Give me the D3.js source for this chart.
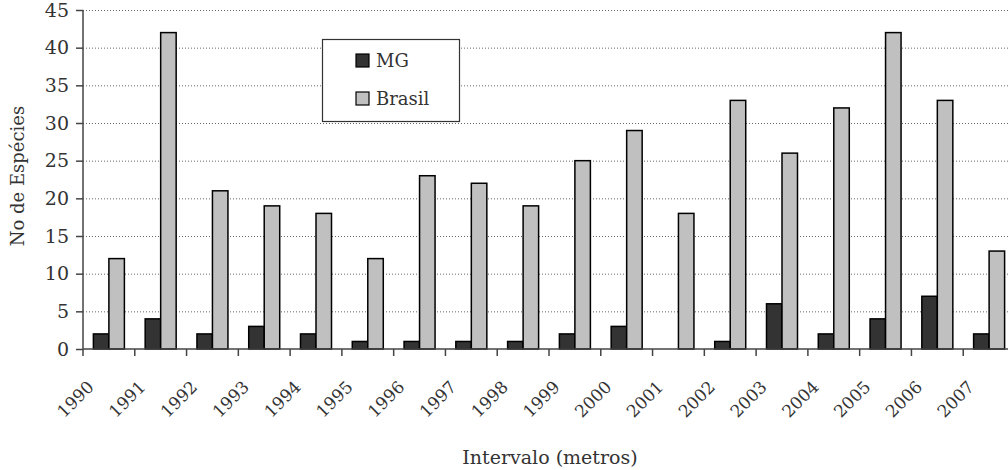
<!DOCTYPE html>
<html><head><meta charset="utf-8">
<script src="https://cdn.jsdelivr.net/npm/d3@7/dist/d3.min.js"></script>
<style>body{margin:0;background:#fff;overflow:hidden}svg{display:block}</style>
</head><body>
<svg id="c" width="1008" height="470"></svg>
<script>
const categories = ["1990","1991","1992","1993","1994","1995","1996","1997","1998","1999","2000","2001","2002","2003","2004","2005","2006","2007"];
const seriesNames = ["MG","Brasil"];
const mgValues = [2,4,2,3,2,1,1,1,1,2,3,0,1,6,2,4,7,2];
const brasilValues = [12,42,21,19,18,12,23,22,19,25,29,18,33,26,32,42,33,13];
const yTicks = [0,5,10,15,20,25,30,35,40,45];
const colors = {MG:"#333333", Brasil:"#c0c0c0"};
const FONT = "'DejaVu Serif', serif";

const svg = d3.select("#c");
const m = {left:83, top:10, right:1015, bottom:349};
const x = d3.scaleBand().domain(categories).range([m.left, m.right]);
const y = d3.scaleLinear().domain([0,45]).range([m.bottom, m.top]);
const bw = 15.5;
const x1 = d3.scaleBand().domain(seriesNames).range([0, bw*2]);

// gridlines
svg.append("g").selectAll("line").data(yTicks.filter(d=>d>0)).join("line")
  .attr("x1", m.left).attr("x2", 1008)
  .attr("y1", d=>y(d)+0.5).attr("y2", d=>y(d)+0.5)
  .attr("stroke","#666").attr("stroke-width",1).attr("stroke-dasharray","1,2");

// bars
const data = categories.map((c,i)=>({c, vals:[{k:"MG",v:mgValues[i]},{k:"Brasil",v:brasilValues[i]}]}));
const g = svg.append("g").selectAll("g").data(data).join("g")
  .attr("transform", d=>`translate(${x(d.c)+x.bandwidth()/2 - bw},0)`);
g.selectAll("rect").data(d=>d.vals.filter(e=>e.v>0)).join("rect")
  .attr("x", d=>x1(d.k)).attr("width", bw)
  .attr("y", d=>y(d.v)).attr("height", d=>y(0)-y(d.v))
  .attr("fill", d=>colors[d.k]).attr("stroke","#000").attr("stroke-width",1.5);

// y axis
const ya = svg.append("g").attr("transform",`translate(${m.left},0)`)
  .call(d3.axisLeft(y).tickValues(yTicks).tickSize(7).tickPadding(7));
ya.select(".domain").attr("stroke","#444").attr("stroke-width",1.5).attr("d",`M0,${m.top}V${m.bottom}`);
ya.selectAll(".tick line").attr("stroke","#444").attr("stroke-width",1.5);
ya.selectAll("text").attr("font-family",FONT).attr("font-size",19).attr("fill","#333");

// x axis
const xa = svg.append("g").attr("transform",`translate(0,${m.bottom})`);
xa.append("line").attr("x1",m.left).attr("x2",1008).attr("stroke","#444").attr("stroke-width",1.5);
const xtickPos = categories.map(c=>x(c)).concat([m.right]);
xa.selectAll("line.t").data(xtickPos).join("line").attr("class","t")
  .attr("x1",d=>d).attr("x2",d=>d).attr("y1",0).attr("y2",7).attr("stroke","#444").attr("stroke-width",1.5);
xa.selectAll("text").data(categories).join("text")
  .attr("transform", d=>`translate(${x(d)+x.bandwidth()/2-14},${39}) rotate(-45)`)
  .attr("text-anchor","end").attr("font-family",FONT).attr("font-size",17).attr("fill","#333")
  .text(d=>d);

// axis titles
svg.append("text").attr("transform","translate(24,176) rotate(-90)").attr("text-anchor","middle")
  .attr("font-family",FONT).attr("font-size",18).attr("fill","#333").text("No de Espécies");
svg.append("text").attr("x",550).attr("y",464).attr("text-anchor","middle")
  .attr("font-family",FONT).attr("font-size",19).attr("fill","#333").text("Intervalo (metros)");

// legend
const lg = svg.append("g");
lg.append("rect").attr("x",322.5).attr("y",39.5).attr("width",137).attr("height",82)
  .attr("fill","#fff").attr("stroke","#333").attr("stroke-width",1.2);
seriesNames.forEach((s,i)=>{
  const yy = 54 + i*38;
  lg.append("rect").attr("x",356).attr("y",yy).attr("width",13).attr("height",13)
    .attr("fill",colors[s]).attr("stroke","#000").attr("stroke-width",1.2);
  lg.append("text").attr("x",376).attr("y",yy+13).attr("font-family",FONT).attr("font-size",18)
    .attr("fill","#333").text(s);
});
</script>
</body></html>
